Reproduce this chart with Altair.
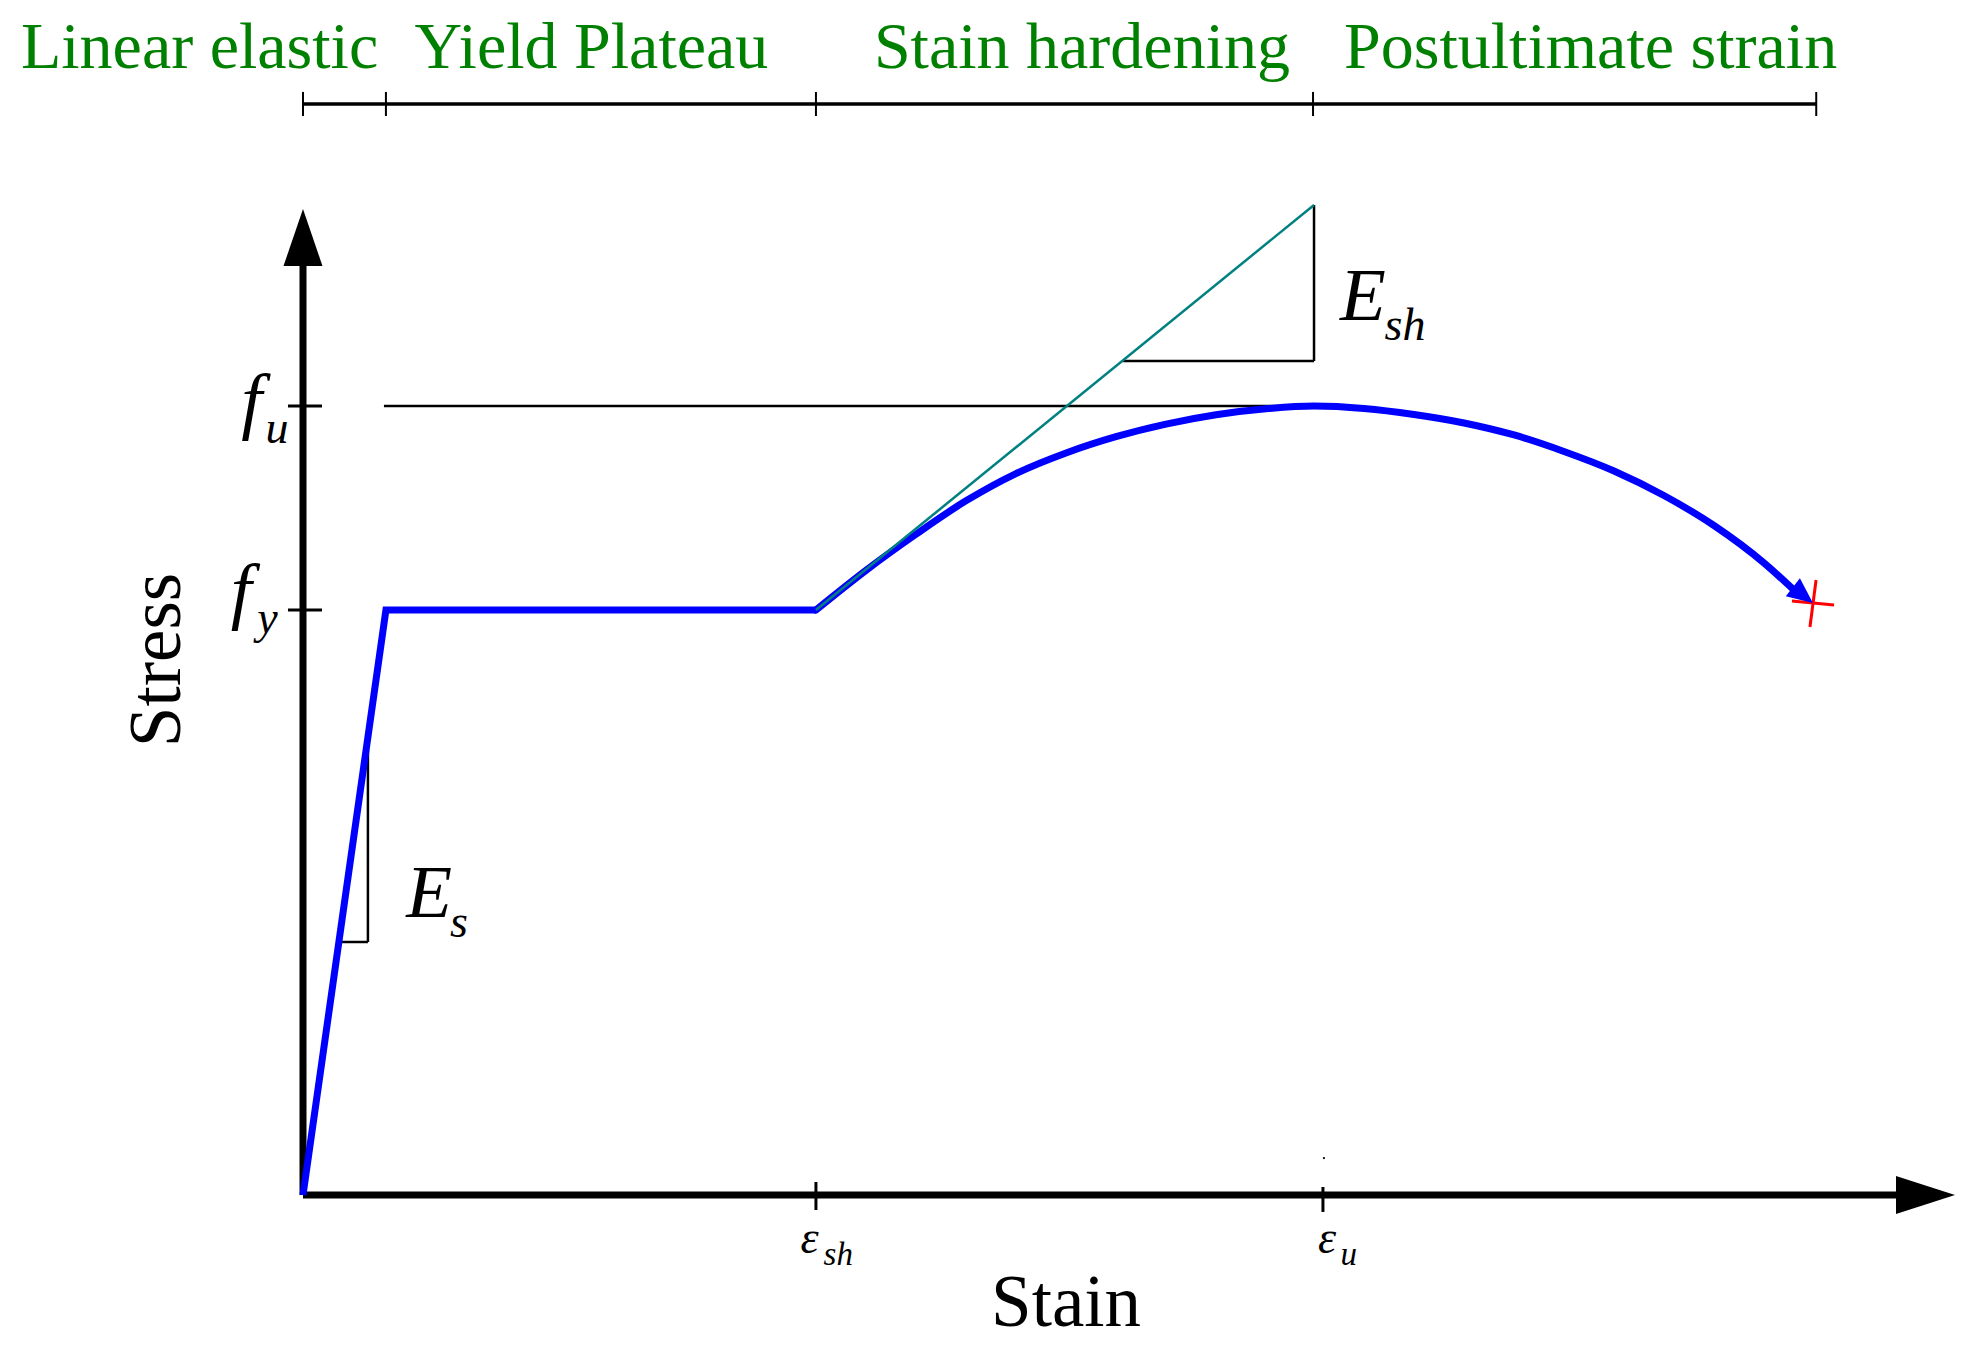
import altair as alt
import pandas as pd

# ---------------- data (arbitrary units) ----------------
# strain axis: 0 at origin, 100 at arrow tip ; stress axis: 0 at origin, 100 at arrow tip
EPS_Y = 5.02
EPS_SH = 31.05
EPS_U = 61.20
EPS_U_TICK = 61.74
EPS_END = 91.40
F_Y = 59.33
F_U = 80.02

elastic_strain = [0.0, EPS_Y, EPS_SH]
elastic_stress = [0.0, F_Y, F_Y]

curve_strain = [31.05, 34.08, 37.11, 40.13, 43.16, 46.19, 49.21, 52.24, 55.27, 58.29,
                61.20, 64.23, 67.25, 70.28, 73.31, 76.33, 79.36, 82.38, 85.41, 88.44, 90.44]
curve_stress = [59.33, 63.35, 67.02, 70.40, 73.17, 75.26, 76.91, 78.19, 79.14, 79.74,
                80.02, 79.77, 79.16, 78.30, 77.08, 75.41, 73.43, 70.94, 67.90, 64.10, 61.05]

# straight segments: (x, y, x2, y2)
axis_segments = [(0, 0, 97, 0), (0, 0, 0, 96)]
ytick_segments = [(-0.91, F_Y, 1.15, F_Y), (-0.91, F_U, 1.15, F_U)]
xtick_segments = [(EPS_SH, 1.32, EPS_SH, -1.52), (EPS_U_TICK, 0.81, EPS_U_TICK, -1.72)]
thin_segments = [(4.90, F_U, EPS_U, F_U),            # f_u level
                 (EPS_U, 100.41, EPS_U, 84.58),      # E_sh triangle
                 (49.64, 84.58, EPS_U, 84.58),
                 (3.93, 45.13, 3.93, 25.66),         # E_s triangle
                 (2.36, 25.66, 3.93, 25.66)]
teal_segments = [(EPS_SH, F_Y, EPS_U, 100.41)]
red_segments = [(91.59, 62.37, 91.22, 57.61), (90.13, 60.24, 92.68, 59.84)]
dim_line = [(0, 110.65, 91.60, 110.65)]
dim_ticks_x = [0, EPS_Y, EPS_SH, 61.14, 91.60]
dim_tick_y = (109.43, 111.87)

region_labels = ["Linear elastic", "Yield Plateau", "Stain hardening", "Postultimate strain"]
region_label_x = [-6.26, 17.46, 47.15, 77.94]
region_label_y = 114.30

big_math = [("f", -3.10, 78.09), ("f", -3.75, 58.82), ("E", 7.63, 28.19), ("E", 64.16, 88.74)]
sub_math = [("u", -1.57, 76.27), ("y", -2.15, 57.00), ("s", 9.44, 26.17), ("sh", 66.71, 86.71)]
eps_math = [("ε", 30.66, -5.88), ("ε", 61.99, -5.88)]
eps_sub = [("sh", 32.40, -7.10), ("u", 63.30, -7.10)]

# ---------------- scales ----------------
W, H = 1955, 1335
xs = alt.Scale(domain=[-17.857, 100.484], nice=False, zero=False)
ys = alt.Scale(domain=[-15.010, 120.385], nice=False, zero=False)


def X(f="x"):
    return alt.X(f"{f}:Q", scale=xs, axis=None)


def Y(f="y"):
    return alt.Y(f"{f}:Q", scale=ys, axis=None)


def seg_df(segs):
    return pd.DataFrame(segs, columns=["x", "y", "x2", "y2"])


def rules(segs, color, width):
    return alt.Chart(seg_df(segs)).mark_rule(color=color, strokeWidth=width, strokeCap="butt").encode(
        x=X("x"), y=Y("y"), x2="x2:Q", y2="y2:Q")


def texts(items, size, italic=True, color="black", font="Liberation Serif", angle=0):
    df = pd.DataFrame(items, columns=["t", "x", "y"])
    kw = dict(font=font, fontSize=size, color=color, align="center", baseline="alphabetic")
    if italic:
        kw["fontStyle"] = "italic"
    if angle:
        kw["angle"] = angle
    return alt.Chart(df).mark_text(**kw).encode(x=X("x"), y=Y("y"), text="t:N")


layers = []
layers.append(rules(axis_segments, "black", 7))
layers.append(rules(ytick_segments, "black", 3))
layers.append(rules(xtick_segments, "black", 3))
layers.append(rules(thin_segments, "black", 2.5))
layers.append(rules(dim_line, "black", 3.5))
layers.append(rules([(x, dim_tick_y[0], x, dim_tick_y[1]) for x in dim_ticks_x], "black", 2))

# axis arrowheads
arrows_up = pd.DataFrame({"x": [0.0], "y": [100.0]})
arrows_right = pd.DataFrame({"x": [100.0], "y": [0.0]})
layers.append(alt.Chart(arrows_up).mark_point(shape="M0,0L0.684,2L-0.684,2Z", size=3249, filled=True,
                                               color="black", opacity=1, strokeWidth=0).encode(x=X(), y=Y()))
layers.append(alt.Chart(arrows_right).mark_point(shape="M0,0L-2,-0.644L-2,0.644Z", size=3481, filled=True,
                                                  color="black", opacity=1, strokeWidth=0).encode(x=X(), y=Y()))

# red end mark
layers.append(rules(red_segments, "#ff0000", 3))

# blue stress-strain curve
el = pd.DataFrame({"x": elastic_strain, "y": elastic_stress, "o": range(len(elastic_strain))})
cu = pd.DataFrame({"x": curve_strain, "y": curve_stress, "o": range(len(curve_strain))})
layers.append(alt.Chart(el).mark_line(color="#0000ff", strokeWidth=7, strokeJoin="miter").encode(
    x=X(), y=Y(), order="o:Q"))
layers.append(alt.Chart(cu).mark_line(color="#0000ff", strokeWidth=7, interpolate="monotone",
                                      strokeCap="round").encode(x=X(), y=Y(), order="o:Q"))
end_arrow = pd.DataFrame({"x": [EPS_END], "y": [60.04]})
layers.append(alt.Chart(end_arrow).mark_point(shape="M0,0L-2,-0.9L-2,0.9Z", size=650, filled=True,
                                               angle=38, color="#0000ff", opacity=1, strokeWidth=0).encode(
    x=X(), y=Y()))

# teal hardening modulus line
layers.append(rules(teal_segments, "#008080", 2.5))

# tiny dot
dot = pd.DataFrame({"x": [61.8], "y": [3.75]})
layers.append(alt.Chart(dot).mark_point(filled=True, size=5, color="black", opacity=1).encode(x=X(), y=Y()))

# texts
layers.append(texts(list(zip(region_labels, region_label_x, [region_label_y] * 4)), 66, italic=False,
                    color="#008000"))
layers.append(texts([("Stress", -7.45, 54.26)], 73, italic=False, angle=270))
layers.append(texts([("Stain", 46.19, -13.29)], 73, italic=False))
layers.append(texts(big_math, 75))
layers.append(texts(sub_math, 46))
layers.append(texts(eps_math, 46))
layers.append(texts(eps_sub, 33))

chart = alt.layer(*layers).properties(
    width=W, height=H, padding=0, autosize=alt.AutoSizeParams(type="none"), background="white"
).configure_view(stroke=None)

chart.save("out.html", embed_options={"renderer": "svg", "actions": False})
